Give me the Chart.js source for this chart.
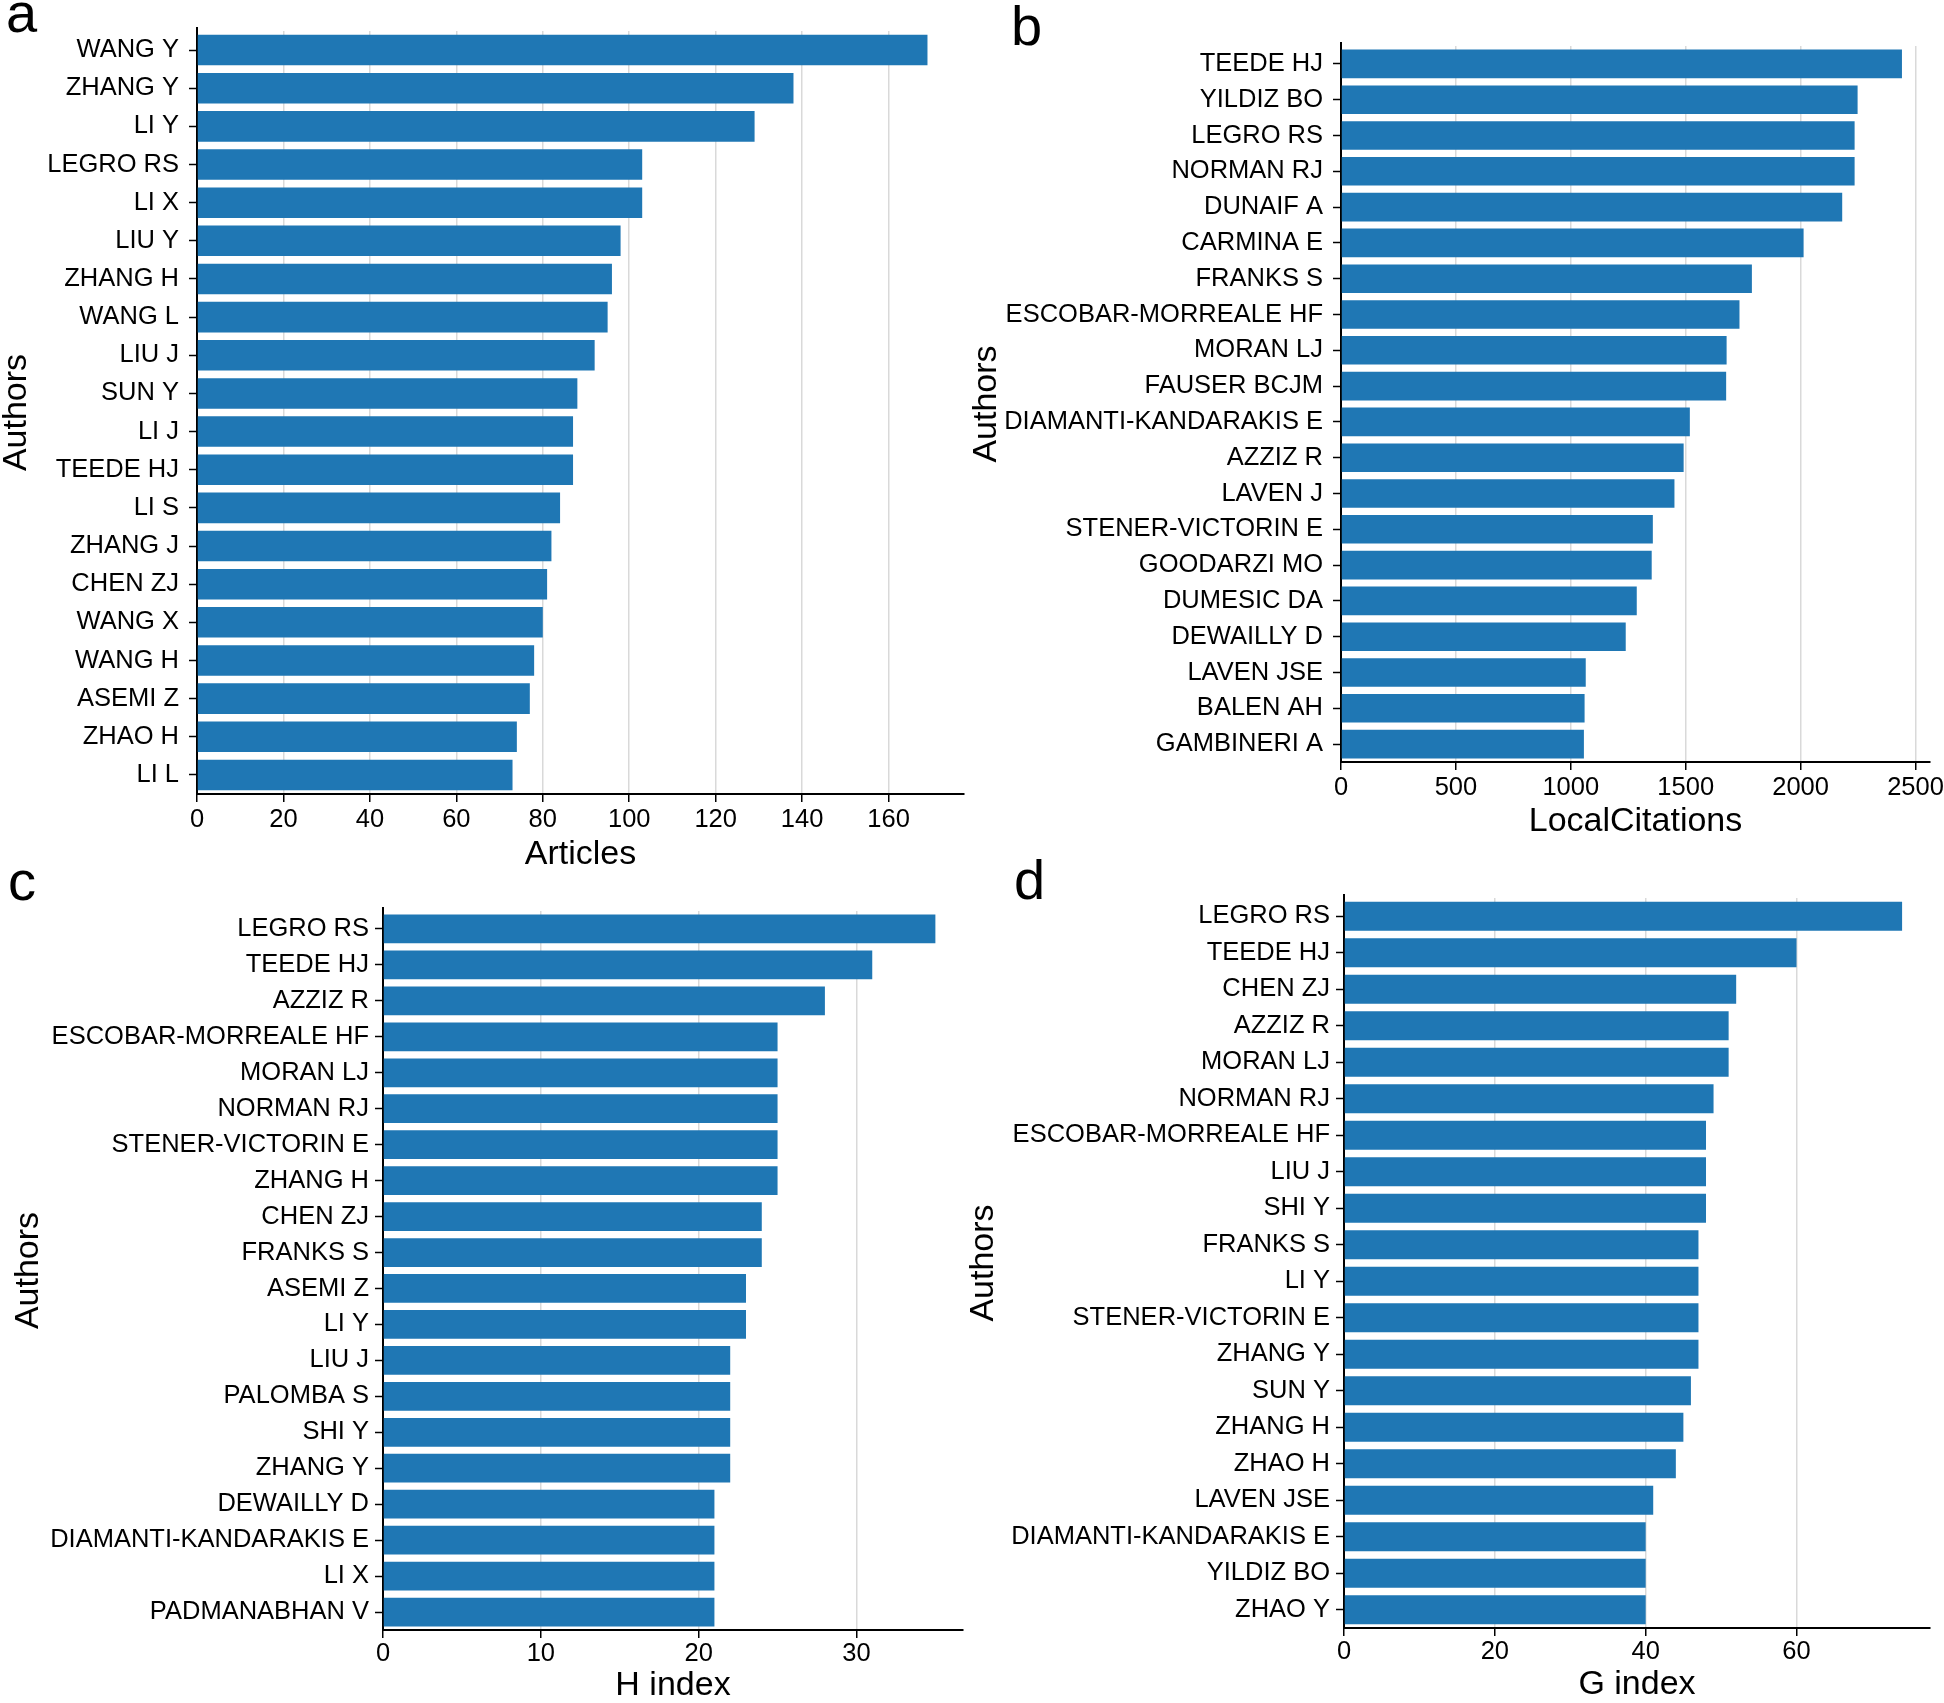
<!DOCTYPE html>
<html>
<head>
<meta charset="utf-8">
<title>Top authors</title>
<script src="https://cdn.jsdelivr.net/npm/chart.js@4.4.1/dist/chart.umd.min.js"></script>
<style>
  html, body { margin: 0; padding: 0; background: #fff; }
  #page { position: relative; width: 1944px; height: 1703px; overflow: hidden; }
  #page canvas { position: absolute; left: 0; top: 0; }
  .panel-letter {
    position: absolute;
    font-family: "Liberation Sans", Arial, sans-serif;
    font-size: 56px;
    line-height: 56px;
    color: #000;
  }
</style>
</head>
<body>
<div id="page">
  <canvas id="chartA" width="1944" height="1703"></canvas>
  <canvas id="chartB" width="1944" height="1703"></canvas>
  <canvas id="chartC" width="1944" height="1703"></canvas>
  <canvas id="chartD" width="1944" height="1703"></canvas>
  <div class="panel-letter" style="left:6px;top:-15px">a</div>
  <div class="panel-letter" style="left:1011px;top:-2px">b</div>
  <div class="panel-letter" style="left:8px;top:853px">c</div>
  <div class="panel-letter" style="left:1014px;top:852px">d</div>
</div>
<script>
// panel a - most productive authors
const authorsA = ["WANG Y", "ZHANG Y", "LI Y", "LEGRO RS", "LI X", "LIU Y", "ZHANG H", "WANG L", "LIU J", "SUN Y",
  "LI J", "TEEDE HJ", "LI S", "ZHANG J", "CHEN ZJ", "WANG X", "WANG H", "ASEMI Z", "ZHAO H", "LI L"];
const articles = [169, 138, 129, 103, 103, 98, 96, 95, 92, 88, 87, 87, 84, 82, 81, 80, 78, 77, 74, 73];

// panel b - local citations
const authorsB = ["TEEDE HJ", "YILDIZ BO", "LEGRO RS", "NORMAN RJ", "DUNAIF A", "CARMINA E", "FRANKS S",
  "ESCOBAR-MORREALE HF", "MORAN LJ", "FAUSER BCJM", "DIAMANTI-KANDARAKIS E", "AZZIZ R", "LAVEN J",
  "STENER-VICTORIN E", "GOODARZI MO", "DUMESIC DA", "DEWAILLY D", "LAVEN JSE", "BALEN AH", "GAMBINERI A"];
const localCitations = [2441, 2248, 2235, 2235, 2181, 2013, 1788, 1734, 1678, 1676, 1518, 1491, 1451, 1357,
  1352, 1287, 1239, 1065, 1060, 1057];

// panel c - H index
const authorsC = ["LEGRO RS", "TEEDE HJ", "AZZIZ R", "ESCOBAR-MORREALE HF", "MORAN LJ", "NORMAN RJ",
  "STENER-VICTORIN E", "ZHANG H", "CHEN ZJ", "FRANKS S", "ASEMI Z", "LI Y", "LIU J", "PALOMBA S", "SHI Y",
  "ZHANG Y", "DEWAILLY D", "DIAMANTI-KANDARAKIS E", "LI X", "PADMANABHAN V"];
const hIndex = [35, 31, 28, 25, 25, 25, 25, 25, 24, 24, 23, 23, 22, 22, 22, 22, 21, 21, 21, 21];

// panel d - G index
const authorsD = ["LEGRO RS", "TEEDE HJ", "CHEN ZJ", "AZZIZ R", "MORAN LJ", "NORMAN RJ", "ESCOBAR-MORREALE HF",
  "LIU J", "SHI Y", "FRANKS S", "LI Y", "STENER-VICTORIN E", "ZHANG Y", "SUN Y", "ZHANG H", "ZHAO H",
  "LAVEN JSE", "DIAMANTI-KANDARAKIS E", "YILDIZ BO", "ZHAO Y"];
const gIndex = [74, 60, 52, 51, 51, 49, 48, 48, 48, 47, 47, 47, 47, 46, 45, 44, 41, 40, 40, 40];

const FONT = '"Liberation Sans", Arial, sans-serif';
const BAR_BLUE = '#1f77b4';
const PAGE_W = 1944;
const PAGE_H = 1703;
const TITLE_SIZE = 34;

// the left spine sticks out a little above the first bar in the original
const spineTop = {
  id: 'spineTop',
  afterDraw(chart) {
    const { ctx, chartArea } = chart;
    ctx.save();
    ctx.strokeStyle = '#000';
    ctx.lineWidth = 2;
    ctx.beginPath();
    ctx.moveTo(Math.round(chartArea.left), chartArea.top - 4);
    ctx.lineTo(Math.round(chartArea.left), chartArea.top + 1);
    ctx.stroke();
    ctx.restore();
  }
};

function makePanel(id, labels, values, xTitle, step, box) {
  const half = TITLE_SIZE / 2;
  const pad = {
    left: box.yTitleX - half,
    top: box.top,
    right: PAGE_W - box.right,
    bottom: Math.max(0, PAGE_H - (box.xTitleY + half))
  };
  const yWidth = box.left - pad.left;
  const xHeight = (PAGE_H - pad.bottom) - box.bottom;

  return new Chart(document.getElementById(id), {
    type: 'bar',
    data: {
      labels: labels,
      datasets: [{
        data: values,
        backgroundColor: BAR_BLUE,
        borderWidth: 0,
        barPercentage: 0.8,
        categoryPercentage: 1.0
      }]
    },
    options: {
      indexAxis: 'y',
      responsive: false,
      animation: false,
      events: [],
      layout: { padding: pad },
      plugins: {
        legend: { display: false },
        tooltip: { enabled: false }
      },
      scales: {
        x: {
          type: 'linear',
          min: 0,
          max: Math.max(...values) * 1.05, // matplotlib's 5% margin
          ticks: {
            maxRotation: 0,
            color: '#000',
            padding: box.xTickPad,
            font: { family: FONT, size: 25.5 },
            callback: (v) => String(v)
          },
          // plain multiples of the step, like the original axis
          afterBuildTicks(s) {
            const t = [];
            for (let v = 0; v <= s.max; v += step) t.push({ value: v });
            s.ticks = t;
          },
          grid: {
            color: '#d9d9d9',
            lineWidth: 1.5,
            tickColor: '#000',
            tickWidth: 1.5,
            tickLength: 8
          },
          border: { color: '#000', width: 2 },
          title: {
            display: true,
            text: xTitle,
            color: '#000',
            padding: 0,
            font: { family: FONT, size: TITLE_SIZE, lineHeight: 1 }
          },
          afterFit(s) {
            s.height = xHeight;
            s.paddingLeft = 0;
            s.paddingRight = 0;
          }
        },
        y: {
          type: 'category',
          ticks: {
            autoSkip: false,
            color: '#000',
            padding: box.yTickPad,
            font: { family: FONT, size: 25.5 }
          },
          grid: {
            display: true,
            offset: false,
            drawOnChartArea: false,
            drawTicks: true,
            tickColor: '#000',
            tickWidth: 1.5,
            tickLength: 8
          },
          border: { color: '#000', width: 2 },
          title: {
            display: true,
            text: 'Authors',
            color: '#000',
            padding: 0,
            font: { family: FONT, size: TITLE_SIZE, lineHeight: 1 }
          },
          afterFit(s) {
            s.width = yWidth;
            s.paddingTop = 0;
            s.paddingBottom = 0;
          }
        }
      }
    },
    plugins: [spineTop]
  });
}

makePanel('chartA', authorsA, articles, 'Articles', 20,
  { yTitleX: 17, left: 197, right: 964, top: 31, bottom: 794, xTitleY: 855, yTickPad: 10, xTickPad: 3 });
makePanel('chartB', authorsB, localCitations, 'LocalCitations', 500,
  { yTitleX: 987, left: 1341, right: 1930, top: 46, bottom: 762, xTitleY: 822, yTickPad: 10, xTickPad: 3 });
makePanel('chartC', authorsC, hIndex, 'H index', 10,
  { yTitleX: 29, left: 383, right: 963, top: 911, bottom: 1630, xTitleY: 1688, yTickPad: 6, xTickPad: 1 });
makePanel('chartD', authorsD, gIndex, 'G index', 20,
  { yTitleX: 984, left: 1344, right: 1930, top: 898, bottom: 1628, xTitleY: 1685, yTickPad: 6, xTickPad: 1 });
</script>
</body>
</html>
